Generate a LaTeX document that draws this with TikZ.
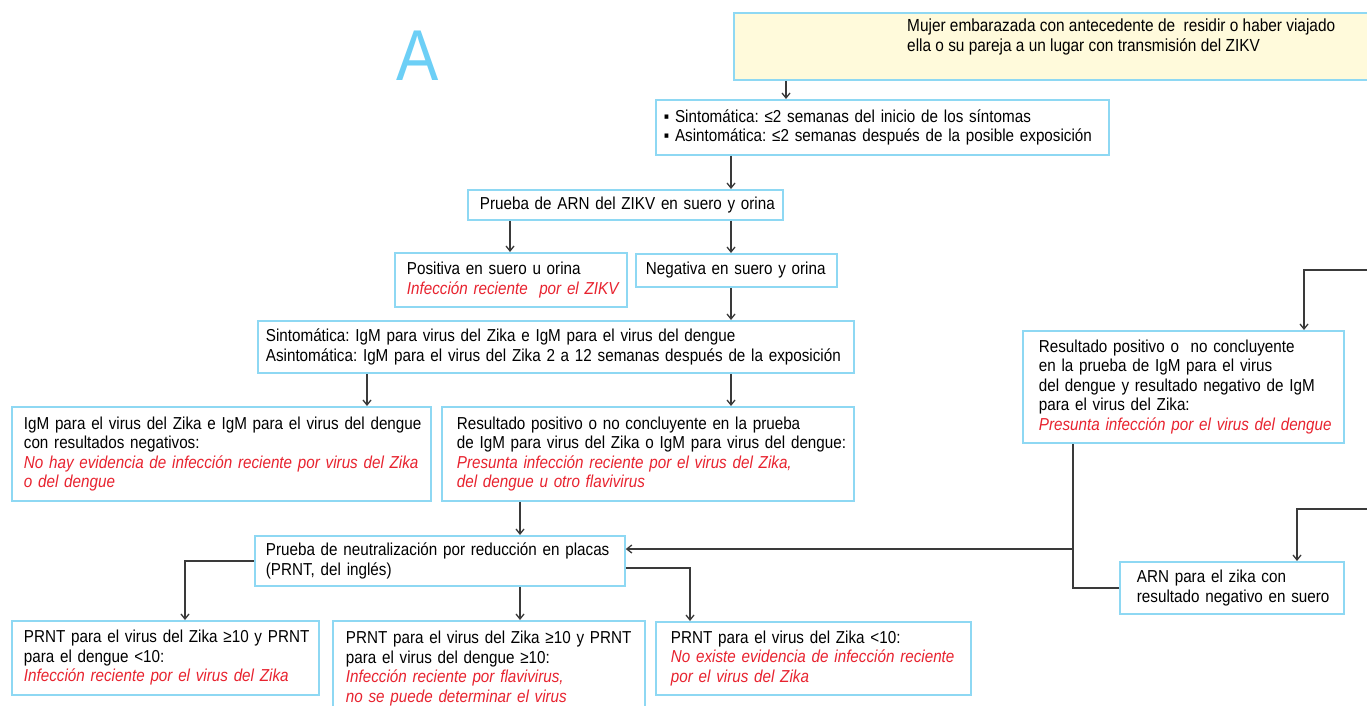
\documentclass[tikz,border=0pt]{standalone}
\usepackage{fontspec}
\setmainfont{Liberation Sans}[FakeStretch=0.88]
\usetikzlibrary{arrows.meta}
\definecolor{boxblue}{HTML}{8ED8F3}
\definecolor{redtxt}{HTML}{E8232F}
\definecolor{linegray}{HTML}{3A3A3A}
\definecolor{paleyellow}{HTML}{FFFADB}
\definecolor{bigA}{HTML}{6CCFF6}
\frenchspacing
\tikzset{
  bx/.style={draw=boxblue, line width=1.8pt, fill=white, anchor=north west, align=left,
    inner ysep=0pt, font=\fontsize{17.3}{19.5}\selectfont, text=black},
  arr/.style={draw=linegray, line width=1.3pt, -{Straight Barb[length=5pt,width=8pt]}},
  ln/.style={draw=linegray, line width=1.3pt},
}
\newcommand{\lne}[1]{\mbox{#1}}
\newcommand{\rt}[1]{\mbox{\textcolor{redtxt}{\itshape #1}}}
\begin{document}
\begin{tikzpicture}[x=1pt,y=-1pt]
\useasboundingbox (0,0) rectangle (1367,705);
\fill[white] (0,0) rectangle (1367,705);

\node[text=bigA, font=\fontsize{72}{72}\selectfont, anchor=base] (letterA) at (418,80) {A};

\node[bx, fill=paleyellow, minimum width=640pt, minimum height=67pt, inner xsep=0pt] (start) at (733,12) {};
\node[anchor=west, align=left, inner sep=0pt, font=\fontsize{17.5}{19.5}\selectfont] (starttext) at (907,37) {Mujer embarazada con antecedente de\ \ residir o haber viajado\\ella o su pareja a un lugar con transmisión del ZIKV};

\node[bx, minimum height=55pt, inner xsep=8pt, text width=437pt] (sym) at (655,99) {\lne{▪ Sintomática: ≤2 semanas del inicio de los síntomas}\\\lne{▪ Asintomática: ≤2 semanas después de la posible exposición}};

\node[bx, minimum height=30pt, inner xsep=12pt, text width=291pt] (arn) at (467,189) {\lne{Prueba de ARN del ZIKV en suero y orina}};

\node[bx, minimum height=54pt, inner xsep=12pt, text width=208pt] (pos) at (394,252) {\lne{Positiva en suero u orina}\\\rt{Infección reciente\ \ por el ZIKV}};

\node[bx, minimum height=33pt, inner xsep=10pt, text width=181pt] (neg) at (635,253) {\lne{Negativa en suero y orina}};

\node[bx, minimum height=52pt, inner xsep=8pt, text width=580pt] (igm) at (257,320) {\lne{Sintomática: IgM para virus del Zika e IgM para el virus del dengue}\\\lne{Asintomática: IgM para el virus del Zika 2 a 12 semanas después de la exposición}};

\node[bx, minimum height=94pt, inner xsep=12pt, text width=395pt] (negres) at (11,406) {\lne{IgM para el virus del Zika e IgM para el virus del dengue}\\\lne{con resultados negativos:}\\\rt{No hay evidencia de infección reciente por virus del Zika}\\\rt{o del dengue}};

\node[bx, minimum height=94pt, inner xsep=15pt, text width=382pt] (posres) at (441,406) {\lne{Resultado positivo o no concluyente en la prueba}\\\lne{de IgM para virus del Zika o IgM para virus del dengue:}\\\rt{Presunta infección reciente por el virus del Zika,}\\\rt{del dengue u otro flavivirus}};

\node[bx, minimum height=50pt, inner xsep=11pt, text width=348pt] (prnt) at (254,535) {\lne{Prueba de neutralización por reducción en placas}\\\lne{(PRNT, del inglés)}};

\node[bx, minimum height=74pt, inner xsep=12pt, text width=283pt] (b1) at (11,620) {\lne{PRNT para el virus del Zika ≥10 y PRNT}\\\lne{para el dengue <10:}\\\rt{Infección reciente por el virus del Zika}};

\node[bx, minimum height=95pt, inner xsep=13pt, text width=286pt] (b2) at (332,620) {\lne{PRNT para el virus del Zika ≥10 y PRNT}\\\lne{para el virus del dengue ≥10:}\\\rt{Infección reciente por flavivirus,}\\\rt{no se puede determinar el virus}};

\node[bx, minimum height=73pt, inner xsep=15pt, text width=285pt] (b3) at (655,621) {\lne{PRNT para el virus del Zika <10:}\\\rt{No existe evidencia de infección reciente}\\\rt{por el virus del Zika}};

\node[bx, minimum height=112pt, inner xsep=16pt, text width=289pt] (dengue) at (1022,330) {\lne{Resultado positivo o\ \ no concluyente}\\\lne{en la prueba de IgM para el virus}\\\lne{del dengue y resultado negativo de IgM}\\\lne{para el virus del Zika:}\\\rt{Presunta infección por el virus del dengue}};

\node[bx, minimum height=52pt, inner xsep=17pt, text width=190pt] (arnz) at (1119,561) {\lne{ARN para el zika con}\\\lne{resultado negativo en suero}};

% helper coordinates
\coordinate (x786) at (786,0);
\coordinate (x731) at (731,0);
\coordinate (x510) at (510,0);
\coordinate (x367) at (367,0);
\coordinate (x520) at (520,0);
\coordinate (x185) at (185,0);
\coordinate (x690) at (690,0);
\coordinate (x1073) at (1073,0);
\coordinate (x1304) at (1304,0);
\coordinate (x1297) at (1297,0);
\coordinate (y549) at (0,549);
\coordinate (y568) at (0,568);
\coordinate (in1) at (1368,270);
\coordinate (in2) at (1368,509);

\draw[arr] (start.south -| x786) -- (sym.north -| x786);
\draw[arr] (sym.south -| x731) -- (arn.north -| x731);
\draw[arr] (arn.south -| x510) -- (pos.north -| x510);
\draw[arr] (arn.south -| x731) -- (neg.north -| x731);
\draw[arr] (neg.south -| x731) -- (igm.north -| x731);
\draw[arr] (igm.south -| x367) -- (negres.north -| x367);
\draw[arr] (igm.south -| x731) -- (posres.north -| x731);
\draw[arr] (posres.south -| x520) -- (prnt.north -| x520);
\draw[arr] (prnt.west) -| (b1.north -| x185);
\draw[arr] (prnt.south -| x520) -- (b2.north -| x520);
\draw[arr] (prnt.east |- y568) -| (b3.north -| x690);
\draw[ln] (dengue.south -| x1073) |- (arnz.west);
\draw[arr] (x1073 |- y549) -- (prnt.east |- y549);
\draw[arr] (in1) -| (dengue.north -| x1304);
\draw[arr] (in2) -| (arnz.north -| x1297);
\end{tikzpicture}
\end{document}
